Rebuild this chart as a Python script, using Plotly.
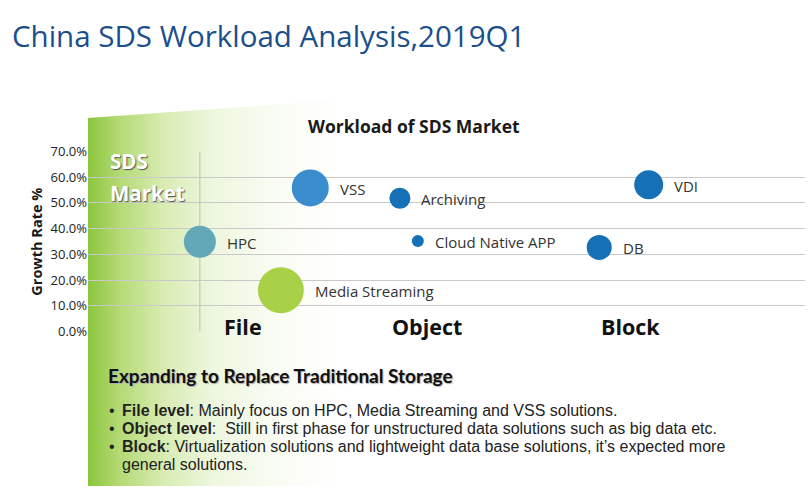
import base64
import plotly.graph_objects as go

W, H = 811, 494

# ---- data ----
workloads = ["HPC", "Media Streaming", "VSS", "Archiving", "Cloud Native APP", "DB", "VDI"]
x_pos = [1.56, 2.69, 3.10, 4.35, 4.60, 7.13, 7.82]
growth = [0.349, 0.161, 0.558, 0.518, 0.352, 0.327, 0.570]
bubble_size = [32, 46, 37, 21, 12, 25, 29]
bubble_color = ["#62a8b9", "#a8d148", "#3a8dcd", "#1670b7", "#1670b7", "#1670b7", "#1670b7"]

categories = ["File", "Object", "Block"]
category_x = [2.16, 4.73, 7.56]
category_y = [0.022, 0.022, 0.022]

y_ticks = [0.0, 0.1, 0.2, 0.3, 0.4, 0.5, 0.6, 0.7]

bullets = [
    ("File level", ": Mainly focus on HPC, Media Streaming and VSS solutions."),
    ("Object level", ":  Still in first phase for unstructured data solutions such as big data etc."),
    ("Block", ": Virtualization solutions and lightweight data base solutions, it\u2019s expected more"),
    ("", "general solutions."),
]

# ---- background gradient (svg data uri) ----
svg = f'''<svg xmlns="http://www.w3.org/2000/svg" width="{W}" height="{H}" viewBox="0 0 {W} {H}" preserveAspectRatio="none">
<defs><linearGradient id="g" x1="88" y1="0" x2="340" y2="0" gradientUnits="userSpaceOnUse">
<stop offset="0" stop-color="#8cc63c"/>
<stop offset="0.12" stop-color="#b3d973"/>
<stop offset="0.3" stop-color="#d8ecb2"/>
<stop offset="0.5" stop-color="#eef7e0"/>
<stop offset="0.75" stop-color="#f9fcf3"/>
<stop offset="1" stop-color="#ffffff"/>
</linearGradient></defs>
<polygon points="88,113 263,100 811,60 811,494 88,494" fill="url(#g)"/>
</svg>'''
uri = "data:image/svg+xml;base64," + base64.b64encode(svg.encode()).decode()

def px(x):
    return x / W

def py(y):
    return 1 - y / H

fig = go.Figure()

fig.add_trace(go.Scatter(
    x=x_pos, y=growth, mode="markers",
    marker=dict(size=bubble_size, sizemode="diameter", color=bubble_color, opacity=1,
                line=dict(width=0)),
    hoverinfo="skip", showlegend=False, cliponaxis=False,
))

annotations = []
for name, xv, yv, s in zip(workloads, x_pos, growth, bubble_size):
    annotations.append(dict(
        x=xv, y=yv, xref="x", yref="y", text=name, showarrow=False,
        xanchor="left", yanchor="middle", xshift=s / 2 + 9, yshift=-1,
        font=dict(family="Open Sans", size=15, color="#333333"),
    ))
for c, xv, yv in zip(categories, category_x, category_y):
    annotations.append(dict(
        x=xv, y=yv, xref="x", yref="y", text=f"<b>{c}</b>", showarrow=False,
        xanchor="center", yanchor="middle",
        font=dict(family="Open Sans", size=21.5, color="#111111"),
    ))

annotations += [
    dict(x=px(10), y=py(27), xref="paper", yref="paper", text="China SDS Workload Analysis,2019Q1",
         showarrow=False, xanchor="left", yanchor="middle",
         font=dict(family="Open Sans", size=29.5, color="#1b4f8b")),
    dict(x=px(414), y=py(121), xref="paper", yref="paper", text="<b>Workload of SDS Market</b>",
         showarrow=False, xanchor="center", yanchor="middle",
         font=dict(family="Open Sans", size=17.5, color="#1a1a1a")),
    dict(x=px(37), y=py(241), xref="paper", yref="paper", text="<b>Growth Rate %</b>",
         showarrow=False, xanchor="center", yanchor="middle", textangle=-90,
         font=dict(family="Open Sans", size=14.5, color="#1a1a1a")),
    dict(x=px(108), y=py(157), xref="paper", yref="paper", text="<b>SDS</b>",
         showarrow=False, xanchor="left", yanchor="middle",
         font=dict(family="Open Sans", size=20.5, color="#ffffff", shadow="1px 1px 1px #555555")),
    dict(x=px(108), y=py(191), xref="paper", yref="paper", text="<b>Market</b>",
         showarrow=False, xanchor="left", yanchor="middle",
         font=dict(family="Open Sans", size=20.5, color="#ffffff", shadow="1px 1px 1px #555555")),
    dict(x=px(106), y=py(380), xref="paper", yref="paper",
         text="<b>Expanding to Replace Traditional Storage</b>",
         showarrow=False, xanchor="left", yanchor="middle",
         font=dict(family="Lato", size=19, color="#111111", shadow="1px 1px 1px #aaaaaa")),
]

line_y = [416, 434.7, 453.4, 472]
for (b, rest), ly in zip(bullets, line_y):
    if b:
        annotations.append(dict(
            x=px(107), y=py(ly), xref="paper", yref="paper", text="\u2022",
            showarrow=False, xanchor="left", yanchor="middle",
            font=dict(family="Liberation Sans", size=16, color="#222222")))
        txt = f"<b>{b}</b>{rest}"
    else:
        txt = rest
    annotations.append(dict(
        x=px(120), y=py(ly), xref="paper", yref="paper", text=txt,
        showarrow=False, xanchor="left", yanchor="middle",
        font=dict(family="Liberation Sans", size=16, color="#222222")))

fig.update_layout(
    width=W, height=H,
    margin=dict(l=0, r=0, t=0, b=0),
    paper_bgcolor="#ffffff", plot_bgcolor="rgba(0,0,0,0)",
    images=[dict(source=uri, xref="paper", yref="paper", x=0, y=1, sizex=1, sizey=1,
                 xanchor="left", yanchor="top", sizing="stretch", layer="below")],
    xaxis=dict(domain=[88 / W, 805 / W], range=[0, 10], showgrid=False, zeroline=False,
               showticklabels=False, showline=False, fixedrange=True),
    yaxis=dict(domain=[1 - 334.3 / H, 1 - 147.3 / H], range=[-0.0005, 0.7005],
               tickvals=y_ticks, tickformat=".1%", showgrid=True, gridcolor="#c9c9c9",
               gridwidth=1, zeroline=False, showline=False, ticks="",
               tickfont=dict(family="Open Sans", size=13, color="#222222"), fixedrange=True),
    shapes=[dict(type="line", xref="x", yref="y", x0=x_pos[0], x1=x_pos[0], y0=0, y1=0.7,
                 line=dict(color="#bdbdbd", width=1), layer="below")],
    annotations=annotations,
    hovermode=False,
)

post = ("document.body.style.margin='0';document.body.style.overflow='hidden';"
        "var d=document.getElementById('{plot_id}');d.style.position='fixed';"
        "d.style.left='0px';d.style.top='0px';")

fig.write_html("out.html", post_script=post, config={"displayModeBar": False})
